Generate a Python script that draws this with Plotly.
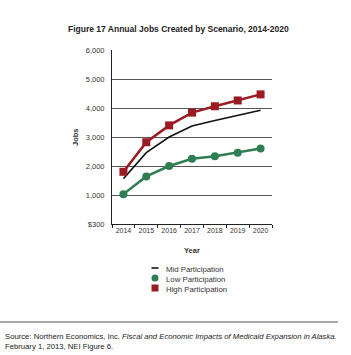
import plotly.graph_objects as go

years = ["2014", "2015", "2016", "2017", "2018", "2019", "2020"]
mid = [1560, 2460, 3000, 3380, 3570, 3750, 3920]
low = [1030, 1640, 2000, 2250, 2340, 2460, 2600]
high = [1800, 2820, 3400, 3840, 4060, 4260, 4470]
ytickvals = [0, 1000, 2000, 3000, 4000, 5000, 6000]
yticktext = ["$300", "1,000", "2,000", "3,000", "4,000", "5,000", "6,000"]
series_names = ["Mid Participation", "Low Participation", "High Participation"]

RED = "#9a1c22"
GREEN = "#2f7d52"
FONT = "Liberation Sans, Arial, sans-serif"

fig = go.Figure()
fig.add_trace(go.Scatter(x=years, y=mid, mode="lines", line=dict(color="#111111", width=1.6),
                         name=series_names[0], showlegend=False))
fig.add_trace(go.Scatter(x=years, y=low, mode="lines+markers", line=dict(color=GREEN, width=2.5),
                         marker=dict(symbol="circle", size=8, color=GREEN), name=series_names[1],
                         showlegend=False))
fig.add_trace(go.Scatter(x=years, y=high, mode="lines+markers", line=dict(color=RED, width=2.5),
                         marker=dict(symbol="square", size=8, color=RED), name=series_names[2],
                         showlegend=False))

L, R, T, B = 112, 79, 50, 131
W, H = 351, 355
pw, ph = W - L - R, H - T - B

def px(x):
    return (x - L) / pw

def py(y):
    return (H - B - y) / ph

fig.update_layout(
    width=W, height=H, margin=dict(l=L, r=R, t=T, b=B),
    paper_bgcolor="white", plot_bgcolor="white",
    font=dict(family=FONT, size=7.5, color="#333333"),
    xaxis=dict(type="category", range=[-0.5, 6.5], showgrid=False, showline=True,
               linecolor="#222222", linewidth=1, ticks="outside", ticklen=3, tickangle=0,
               tickcolor="#222222", tickson="boundaries", tickfont=dict(size=7, color="#333333")),
    yaxis=dict(range=[0, 6000], tickvals=ytickvals, ticktext=yticktext, showgrid=True,
               gridcolor="#555555", gridwidth=1, showline=True, linecolor="#222222", linewidth=1,
               ticks="", zeroline=False,
               ticklabelstandoff=5, tickfont=dict(size=7.5, color="#333333")),
    showlegend=False,
)

fig.add_annotation(text="<b>Figure 17 Annual Jobs Created by Scenario, 2014-2020</b>", xref="paper", yref="paper",
                   x=px(178.5), y=py(29), showarrow=False, font=dict(size=8.5, color="#222222"),
                   xanchor="center", yanchor="middle")
fig.add_annotation(text="<b>Jobs</b>", xref="paper", yref="paper", x=px(75), y=py(137), textangle=-90,
                   showarrow=False, font=dict(size=7.5, color="#333333"), xanchor="center", yanchor="middle")
fig.add_annotation(text="<b>Year</b>", xref="paper", yref="paper", x=px(192), y=py(250),
                   showarrow=False, font=dict(size=7.5, color="#333333"), xanchor="center", yanchor="middle")

# legend: text block + swatches
fig.add_annotation(text="<br>".join(series_names), xref="paper", yref="paper", x=px(164), y=py(263),
                   showarrow=False, align="left", xanchor="left", yanchor="top",
                   font=dict(size=7.8, color="#333333"))
fig.add_shape(type="line", xref="paper", yref="paper", x0=px(151.5), x1=px(158.5), y0=py(268), y1=py(268),
              line=dict(color="#111111", width=1.6))
fig.add_shape(type="circle", xref="paper", yref="paper", x0=px(151.5), x1=px(158.5), y0=py(274.5), y1=py(281.5),
              line=dict(width=0), fillcolor=GREEN)
fig.add_shape(type="rect", xref="paper", yref="paper", x0=px(151.5), x1=px(158.5), y0=py(284.5), y1=py(291.5),
              line=dict(width=0), fillcolor=RED)

fig.add_annotation(text="Source: Northern Economics, Inc. <i>Fiscal and Economic Impacts of Medicaid Expansion in Alaska.</i>"
                        "<br>February 1, 2013, NEI Figure 6.",
                   xref="paper", yref="paper", x=px(3), y=py(330), showarrow=False, align="left",
                   font=dict(size=7.7, color="#222222"), xanchor="left", yanchor="top")
fig.add_shape(type="line", xref="paper", yref="paper", x0=px(0), x1=px(338), y0=py(322), y1=py(322),
              line=dict(color="#555555", width=1))

fig.write_html("out.html")
